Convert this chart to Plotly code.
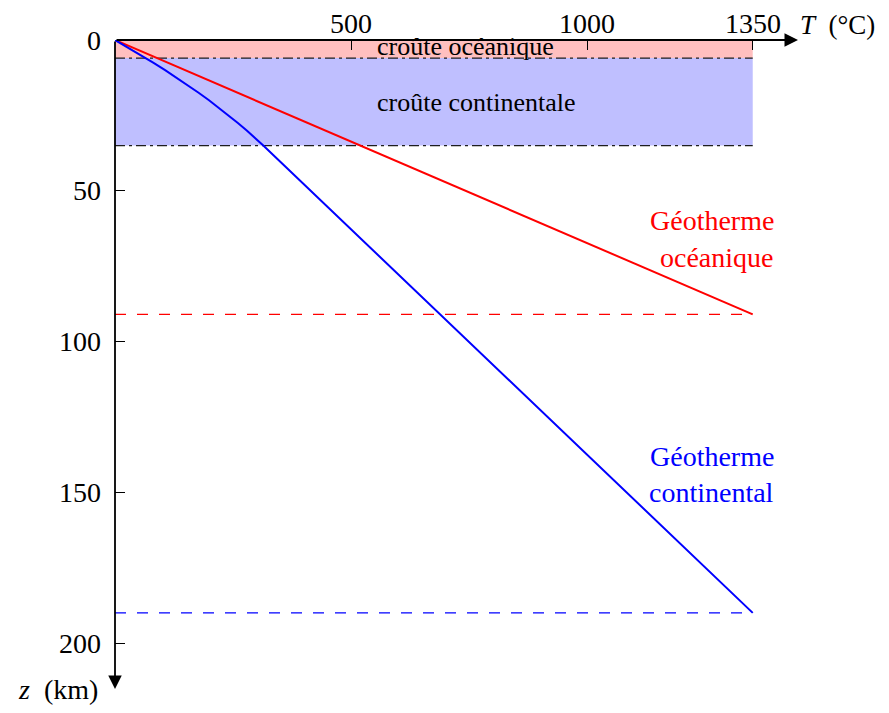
import plotly.graph_objects as go

# ---- data ----
T_MAX = 1350
x_tick_vals = [500, 1000, 1350]
x_tick_text = ["500", "1000", "1350"]
z_tick_vals = [0, 50, 100, 150, 200]
z_tick_text = ["0", "50", "100", "150", "200"]

crust_oceanic = [0, 6]        # km
crust_continental = [6, 35]   # km

ocean_T = [0, 1350]
ocean_z = [0, 91]

cont_z = [0, 2.5, 5, 7.5, 10, 12.5, 15, 17.5, 20, 22.5, 25, 27.5, 30, 32.5, 35, 190]
cont_T = [0, 27.7, 54.7, 80.8, 106.1, 130.5, 154.2, 177.0, 199.0, 220.2, 240.6,
          260.1, 278.9, 296.8, 313.9, 1350]

lithos_ocean_z = 91
lithos_cont_z = 190

# ---- geometry (page pixels; the page body has an 8px margin) ----
OFF = 8
PAGE_W, PAGE_H = 889, 713
W, H = PAGE_W - 2 * OFF, PAGE_H - 2 * OFF
X0, Y0 = 115, 40          # axis origin on page
tip_x, tip_y = 798, 689   # arrow tips on page
PW = tip_x - X0
PH = tip_y - Y0
px_per_T = 0.4724
px_per_z = 3.015
XMAX = PW / px_per_T
ZMAX = PH / px_per_z

FONT = "Liberation Serif"
fig = go.Figure()

# crust bands
fig.add_trace(go.Scatter(
    x=[0, T_MAX, T_MAX, 0, 0],
    y=[crust_oceanic[0], crust_oceanic[0], crust_oceanic[1], crust_oceanic[1], crust_oceanic[0]],
    fill="toself", fillcolor="rgb(255,191,191)", line=dict(width=0),
    mode="lines", hoverinfo="skip", showlegend=False))
fig.add_trace(go.Scatter(
    x=[0, T_MAX, T_MAX, 0, 0],
    y=[crust_continental[0], crust_continental[0], crust_continental[1], crust_continental[1], crust_continental[0]],
    fill="toself", fillcolor="rgb(191,191,255)", line=dict(width=0),
    mode="lines", hoverinfo="skip", showlegend=False))

# boundaries (dash-dot)
for zb in [crust_oceanic[1], crust_continental[1]]:
    fig.add_trace(go.Scatter(x=[0, T_MAX], y=[zb, zb], mode="lines",
                             line=dict(color="rgb(30,30,30)", width=1.2, dash="10px,4px,3px,4px"),
                             hoverinfo="skip", showlegend=False))

# lithosphere base (dashed)
fig.add_trace(go.Scatter(x=[0, T_MAX], y=[lithos_ocean_z] * 2, mode="lines",
                         line=dict(color="red", width=1.2, dash="11px,11px"),
                         hoverinfo="skip", showlegend=False))
fig.add_trace(go.Scatter(x=[0, T_MAX], y=[lithos_cont_z] * 2, mode="lines",
                         line=dict(color="blue", width=1.2, dash="11px,11px"),
                         hoverinfo="skip", showlegend=False))

# geotherms
fig.add_trace(go.Scatter(x=ocean_T, y=ocean_z, mode="lines",
                         line=dict(color="red", width=2), showlegend=False))
fig.add_trace(go.Scatter(x=cont_T, y=cont_z, mode="lines",
                         line=dict(color="blue", width=2), showlegend=False))

ann = []
# axes arrows
ann.append(dict(x=XMAX, y=0, ax=0, ay=0, xref="x", yref="y", axref="x", ayref="y",
                text="", showarrow=True, arrowhead=2, arrowsize=1.5, arrowwidth=1.8,
                arrowcolor="black", standoff=0))
ann.append(dict(x=0, y=ZMAX, ax=0, ay=0, xref="x", yref="y", axref="x", ayref="y",
                text="", showarrow=True, arrowhead=2, arrowsize=1.5, arrowwidth=1.8,
                arrowcolor="black", standoff=0))

def txt(x, y, s, size, color="black", xa="center"):
    ann.append(dict(x=x, y=y, xref="x", yref="y", text=s, showarrow=False,
                    xanchor=xa, yanchor="middle",
                    font=dict(family=FONT, size=size, color=color)))

def px2paper_x(px):
    return (px - X0) / PW

def py2paper_y(py):
    return 1 - (py - Y0) / PH

def ptxt(px, py, s, size, xa):
    ann.append(dict(x=px2paper_x(px), y=py2paper_y(py), xref="paper", yref="paper",
                    text=s, showarrow=False, xanchor=xa, yanchor="middle",
                    font=dict(family=FONT, size=size, color="black")))

# tick labels
for v, t in zip(x_tick_vals, x_tick_text):
    ann.append(dict(x=v, y=py2paper_y(23), xref="x", yref="paper", text=t, showarrow=False,
                    xanchor="center", yanchor="middle",
                    font=dict(family=FONT, size=28, color="black")))
for v, t in zip(z_tick_vals, z_tick_text):
    ann.append(dict(x=px2paper_x(103), y=v, xref="paper", yref="y", text=t, showarrow=False,
                    xanchor="right", yanchor="middle",
                    font=dict(family=FONT, size=28, color="black")))

txt(550, 2.3, "croûte océanique", 26, xa="left")
txt(550, 20.6, "croûte continentale", 26, xa="left")
txt(1399, 60.0, "Géotherme", 28, "red", "right")
txt(1399, 72.0, "océanique", 28, "red", "right")
txt(1399, 138.3, "Géotherme", 28, "blue", "right")
txt(1399, 150.2, "continental", 28, "blue", "right")
ptxt(877, 25, "<i>T</i> &nbsp;(°C)", 27, "right")
ptxt(100, 689, "<i>z</i> &nbsp;(km)", 28, "right")

fig.update_layout(
    width=W, height=H,
    margin=dict(l=X0 - OFF, r=W - (tip_x - OFF), t=Y0 - OFF, b=H - (tip_y - OFF), autoexpand=False),
    paper_bgcolor="white", plot_bgcolor="white",
    annotations=ann,
    xaxis=dict(range=[0, XMAX], side="top", tickvals=x_tick_vals, showticklabels=False,
               ticks="inside", ticklen=10, tickwidth=1.2, tickcolor="black",
               showgrid=False, zeroline=False, showline=False, automargin=False),
    yaxis=dict(range=[ZMAX, 0], tickvals=z_tick_vals, showticklabels=False,
               ticks="inside", ticklen=10, tickwidth=1.2, tickcolor="black",
               showgrid=False, zeroline=False, showline=False, automargin=False),
)

fig.write_html("out.html")
